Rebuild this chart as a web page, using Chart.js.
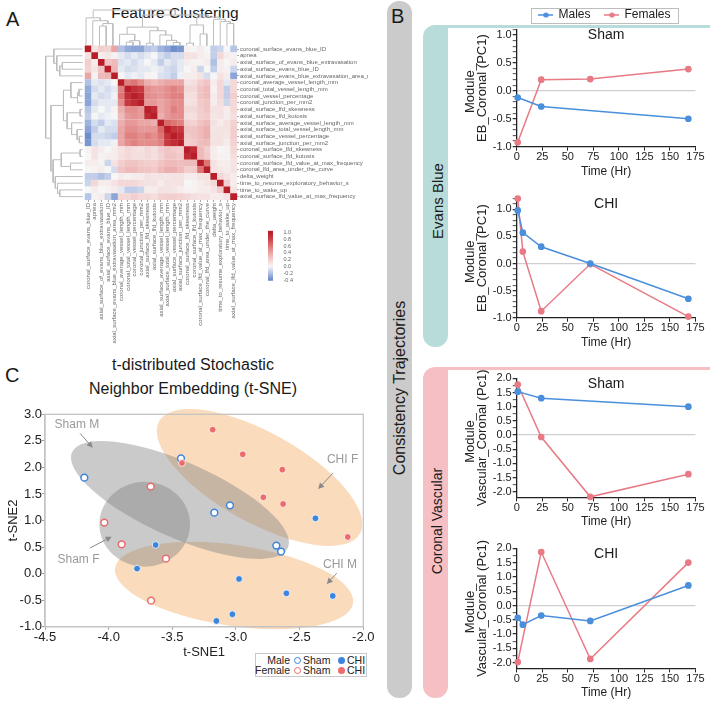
<!DOCTYPE html>
<html><head><meta charset="utf-8"><title>Feature clustering, trajectories and t-SNE</title>
<script src="https://cdn.jsdelivr.net/npm/chart.js@4.4.1/dist/chart.umd.min.js"></script>
<style>
html,body{margin:0;padding:0;background:#fff;}
body{width:720px;height:705px;position:relative;overflow:hidden;font-family:"Liberation Sans",Arial,Helvetica,sans-serif;color:#1a1a1a;}
canvas{position:absolute;}
.t{position:absolute;line-height:1;white-space:nowrap;}
.bar{position:absolute;}
.rot{position:absolute;transform:translate(-50%,-50%) rotate(-90deg);white-space:nowrap;line-height:1;}
.lg{position:absolute;font-size:10.5px;line-height:10.5px;white-space:nowrap;color:#222;}
.dot{position:absolute;width:7px;height:7px;border-radius:50%;box-sizing:border-box;}
</style></head>
<body>
<!-- panel B background bands -->
<div class="bar" style="left:387px;top:1px;width:25px;height:697px;border-radius:12px;background:#cbcbcb"></div>
<div class="bar" style="left:423px;top:25px;width:25px;height:322px;border-radius:12px 0 12px 12px;background:#b7dcd9"></div>
<div class="bar" style="left:440px;top:25px;width:270px;height:3.3px;background:#b7dcd9"></div>
<div class="bar" style="left:423px;top:366.5px;width:25px;height:331px;border-radius:12px 0 12px 12px;background:#f6bfc3"></div>
<div class="bar" style="left:440px;top:366.5px;width:270px;height:3.3px;background:#f6bfc3"></div>

<div class="t" style="left:6px;top:9px;font-size:20px">A</div>
<div class="t" style="left:75px;top:5.3px;width:200px;text-align:center;font-size:15.5px">Feature Clustering</div>
<div class="t" style="left:391px;top:5.7px;font-size:20px">B</div>
<div class="rot" style="left:399.7px;top:387.5px;font-size:16px">Consistency Trajectories</div>
<div class="rot" style="left:437px;top:201px;font-size:15px">Evans Blue</div>
<div class="rot" style="left:437px;top:521px;font-size:14px">Coronal Vascular</div>
<div class="t" style="left:5px;top:365px;font-size:20px">C</div>
<div class="t" style="left:43px;top:352.6px;width:300px;text-align:center;font-size:16px;line-height:24px">t-distributed Stochastic<br>Neighbor Embedding (t-SNE)</div>

<!-- panel C legend -->
<div style="position:absolute;left:255px;top:652.5px;width:112px;height:24.5px;border:1px solid #c8c8c8;box-sizing:border-box;background:#fff"></div>
<div class="lg" style="left:230px;top:654.8px;width:60px;text-align:right">Male</div>
<div class="dot" style="left:294.2px;top:656.5px;border:1.5px solid #3d84dd;background:#fff"></div>
<div class="lg" style="left:303px;top:654.8px">Sham</div>
<div class="dot" style="left:337.5px;top:656.5px;background:#3d84dd"></div>
<div class="lg" style="left:347px;top:654.8px">CHI</div>
<div class="lg" style="left:230px;top:665.4px;width:60px;text-align:right">Female</div>
<div class="dot" style="left:294.2px;top:667.2px;border:1.5px solid #ec6b6b;background:#fff"></div>
<div class="lg" style="left:303px;top:665.4px">Sham</div>
<div class="dot" style="left:337.5px;top:667.2px;background:#ec6b6b"></div>
<div class="lg" style="left:347px;top:665.4px">CHI</div>

<script>
// ================= DATA =================
const features = [
  'coronal_surface_evans_blue_ID','apnea','axial_surface_of_evans_blue_extravasation',
  'axial_surface_evans_blue_ID','axial_surface_evans_blue_extravasation_area_mm2',
  'coronal_average_vessel_length_mm','coronal_total_vessel_length_mm','coronal_vessel_percentage',
  'coronal_junction_per_mm2','axial_surface_lfd_skewness','axial_surface_lfd_kutosis',
  'axial_surface_average_vessel_length_mm','axial_surface_total_vessel_length_mm',
  'axial_surface_vessel_percentage','axial_surface_junction_per_mm2','coronal_surface_lfd_skewness',
  'coronal_surface_lfd_kutosis','coronal_surface_lfd_value_at_max_frequency',
  'coronal_lfd_area_under_the_curve','delta_weight','time_to_resume_exploratory_behavior_s',
  'time_to_wake_up','axial_surface_lfd_value_at_max_frequency'];

// lower triangle of the correlation matrix (row r holds columns 0..r)
const corrLower = [
  [1],
  [0.10, 1],
  [0.20, 0.05, 1],
  [0.18, 0.08, 0.25, 1],
  [0.40, 0.02, 0.30, 0.32, 1],
  [-0.20,-0.05,-0.08,-0.05, 0.00, 1],
  [-0.28,-0.10,-0.05,-0.10,-0.05, 0.55, 1],
  [-0.30,-0.05,-0.10,-0.08,-0.02, 0.60, 0.90, 1],
  [-0.30,-0.10,-0.05,-0.05,-0.05, 0.50, 0.85, 0.92, 1],
  [-0.18,-0.05, 0.00,-0.05, 0.02, 0.35, 0.50, 0.50, 0.45, 1],
  [-0.15, 0.00,-0.05,-0.02, 0.00, 0.30, 0.45, 0.48, 0.45, 0.92, 1],
  [-0.25,-0.10,-0.15,-0.05,-0.08, 0.35, 0.45, 0.45, 0.40, 0.40, 0.35, 1],
  [-0.30,-0.15,-0.05,-0.10,-0.10, 0.40, 0.50, 0.50, 0.45, 0.45, 0.45, 0.65, 1],
  [-0.38,-0.10,-0.10,-0.12,-0.15, 0.40, 0.55, 0.55, 0.50, 0.55, 0.50, 0.60, 0.88, 1],
  [-0.35,-0.10,-0.05,-0.05,-0.02, 0.40, 0.50, 0.55, 0.50, 0.50, 0.50, 0.55, 0.85, 0.92, 1],
  [0.02, 0.10, 0.05, 0.00, 0.05, 0.10, 0.15, 0.12, 0.10, 0.15, 0.12, 0.20, 0.25, 0.22, 0.20, 1],
  [0.00, 0.10, 0.02, 0.05, 0.05, 0.12, 0.15, 0.12, 0.12, 0.15, 0.12, 0.18, 0.25, 0.25, 0.22, 0.92, 1],
  [0.05, 0.05, 0.02,-0.12, 0.10, 0.20, 0.25, 0.25, 0.22, 0.20, 0.20, 0.25, 0.30, 0.30, 0.28, 0.30, 0.30, 1],
  [0.00, 0.02, 0.05, 0.00,-0.10, 0.25, 0.30, 0.30, 0.25, 0.25, 0.22, 0.30, 0.35, 0.35, 0.30, 0.20, 0.22, 0.60, 1],
  [-0.15,-0.15,-0.20,-0.15, 0.00, 0.05, 0.02, 0.05, 0.05, 0.10, 0.08, 0.10, 0.08, 0.10, 0.10, 0.05, 0.05, 0.10, 0.10, 1],
  [-0.12, 0.15, 0.05, 0.05, 0.10, 0.15, 0.15, 0.15, 0.12, 0.10, 0.10, 0.05, 0.10, 0.10, 0.10, 0.00, 0.02, 0.05, 0.08, 0.15, 1],
  [0.00, 0.05, 0.00, 0.02, 0.05,-0.05,-0.15,-0.15,-0.12, 0.05, 0.05, 0.10, 0.10, 0.08, 0.05, 0.02, 0.02, 0.05, 0.05, 0.10, 0.20, 1],
  [-0.18, 0.02, 0.05,-0.12,-0.30, 0.15, 0.15, 0.20, 0.15, 0.15, 0.12, 0.18, 0.20, 0.20, 0.18, 0.15, 0.12, 0.10, 0.10, 0.05, 0.05, 0.10, 1]
];

// hierarchical clustering merges: [child a, child b, height]; new node ids start at features.length
const linkage = [
  [6, 7, 0.10], [23, 8, 0.14], [5, 24, 0.32], [9, 10, 0.07], [13, 14, 0.09],
  [12, 27, 0.15], [11, 28, 0.30], [26, 29, 0.42], [25, 30, 0.52], [15, 16, 0.07],
  [17, 18, 0.33], [32, 33, 0.58], [21, 22, 0.62], [20, 35, 0.68], [19, 36, 0.74],
  [34, 37, 0.80], [31, 38, 0.86], [2, 3, 0.55], [40, 4, 0.62], [1, 41, 0.70],
  [0, 42, 0.78], [43, 39, 1.00]
];
const colorbarTicks = [1.0, 0.8, 0.6, 0.4, 0.2, 0.0, -0.2, -0.4];

// panel B trajectories (time in hours)
const ebShamMaleT = [1, 24, 168],        ebShamMale = [-0.12, -0.28, -0.50];
const ebShamFemaleT = [1, 24, 72, 168],  ebShamFemale = [-0.92, 0.20, 0.21, 0.39];
const ebChiMaleT = [1, 6, 24, 72, 168],  ebChiMale = [0.98, 0.57, 0.31, 0.00, -0.65];
const ebChiFemaleT = [1, 6, 24, 72, 168],ebChiFemale = [1.20, 0.22, -0.88, -0.01, -0.98];
const vcShamMaleT = [1, 24, 168],        vcShamMale = [1.53, 1.30, 1.00];
const vcShamFemaleT = [1, 24, 72, 168],  vcShamFemale = [1.78, -0.07, -2.18, -1.38];
const vcChiMaleT = [1, 6, 24, 72, 168],  vcChiMale = [-0.43, -0.67, -0.35, -0.54, 0.70];
const vcChiFemaleT = [1, 24, 72, 168],   vcChiFemale = [-1.98, 1.87, -1.87, 1.50];

// panel C t-SNE embedding [t-SNE1, t-SNE2]
const tsneMaleSham = [[-4.191,1.807],[-3.432,2.171],[-3.170,1.148],[-3.047,1.286],[-2.683,0.527],[-2.646,0.414]];
const tsneMaleCHI = [[-3.631,0.539],[-3.777,0.094],[-2.976,-0.101],[-2.604,-0.371],[-2.240,-0.421],[-3.028,-0.766],[-3.154,-0.892],[-2.376,1.041]];
const tsneFemaleSham = [[-3.670,1.638],[-4.034,0.960],[-3.898,0.552],[-3.550,0.282],[-3.667,-0.509]];
const tsneFemaleCHI = [[-3.183,2.711],[-2.947,2.247],[-3.424,2.083],[-2.636,1.958],[-2.785,1.437],[-2.630,1.311],[-2.122,0.690]];
// group ellipses: centre, major half-axis vector, minor half-axis vector (data units)
const ellipseCentres = {shamM:[-3.44,1.386], shamF:[-3.717,0.930], chiF:[-2.815,1.810], chiM:[-3.015,-0.224]};
const ellipseMajor   = {shamM:[0.848,-0.900], shamF:[0.356,0], chiF:[0.789,-1.057], chiM:[0.935,-0.330]};
const ellipseMinor   = {shamM:[-0.120,-0.650], shamF:[0,0.800], chiF:[-0.172,-0.738], chiM:[-0.046,-0.753]};
const groupLabels = [['Sham M',-4.249,2.80],['CHI F',-2.163,2.139],['Sham F',-4.237,0.256],['CHI M',-2.183,0.175]];
const groupArrows = [[-4.225,2.642,-4.125,2.371],[-2.238,1.894,-2.355,1.593],[-4.147,0.482,-3.976,0.695],[-2.209,0.006,-2.287,-0.196]];

// ================= STYLE / HELPERS =================
Chart.defaults.font.family = '"Liberation Sans", Arial, Helvetica, sans-serif';
Chart.defaults.color = '#222';
Chart.defaults.animation = false;
Chart.defaults.responsive = false;
Chart.defaults.events = [];
Chart.defaults.plugins.legend.display = false;
Chart.defaults.plugins.tooltip.enabled = false;

const BLUE = '#4a8fdc', RED = '#e87a85';
const TS_BLUE = '#3d84dd', TS_RED = '#ec6b6b';
const cmapStops = [[-0.4,[103,137,200]],[-0.2,[176,193,228]],[0,[247,246,246]],[0.2,[243,206,206]],
  [0.4,[234,165,165]],[0.6,[221,117,117]],[0.8,[203,66,70]],[1.0,[183,30,42]]];
function rgbStr(c){return 'rgb('+c.map(Math.round).join(',')+')';}
function cmap(v){
  const s = cmapStops;
  if (v <= s[0][0]) return rgbStr(s[0][1]);
  for (let i = 1; i < s.length; i++) {
    if (v <= s[i][0]) {
      const t = (v - s[i-1][0]) / (s[i][0] - s[i-1][0]);
      return rgbStr(s[i-1][1].map((a, k) => a + (s[i][1][k] - a) * t));
    }
  }
  return rgbStr(s[s.length-1][1]);
}
function mk(l, t, w, h){
  const c = document.createElement('canvas');
  c.width = w; c.height = h;
  c.style.left = l + 'px'; c.style.top = t + 'px';
  c.style.width = w + 'px'; c.style.height = h + 'px';
  document.body.appendChild(c);
  return c;
}
function fmt1(v){ return Math.abs(v) < 1e-9 ? '0.0' : Number(v).toFixed(1); }

// ================= PANEL A: heatmap =================
const n = features.length;
const corr = features.map((_, r) => features.map((_, c) => r >= c ? corrLower[r][c] : corrLower[c][r]));
const cells = [];
for (let r = 0; r < n; r++) for (let c = 0; c < n; c++) cells.push({x: features[c], y: features[r], v: corr[r][c]});

new Chart(mk(80, 40, 288, 315), {
  type: 'scatter',
  data: {datasets: [{data: cells, pointStyle: 'rect', pointRadius: 4.9, pointBorderWidth: 0,
    pointBackgroundColor: ctx => cmap(ctx.raw ? ctx.raw.v : 0)}]},
  options: {
    layout: {padding: {left: 2.7, top: 5.7, right: 0, bottom: 0}},
    scales: {
      x: {type: 'category', labels: features, offset: true, position: 'bottom',
          ticks: {autoSkip: false, minRotation: 90, maxRotation: 90, font: {size: 6}, color: '#666', padding: 1},
          grid: {display: true, drawOnChartArea: false, tickLength: 2, color: '#aaa'}, border: {display: false},
          afterFit(s){ s.height = 155; s.paddingLeft = 0; s.paddingRight = 0; }},
      y: {type: 'category', labels: features, offset: true, position: 'right',
          ticks: {autoSkip: false, font: {size: 6}, color: '#666', padding: 1},
          grid: {display: true, drawOnChartArea: false, tickLength: 2, color: '#aaa'}, border: {display: false},
          afterFit(s){ s.width = 368 - 237; s.paddingTop = 0; s.paddingBottom = 0; }}
    }
  }
});

// dendrograms
function dendroLinks(){
  const pos = [], ht = [];
  for (let i = 0; i < n; i++){ pos[i] = i; ht[i] = 0; }
  return linkage.map(([a, b, h], k) => {
    const id = n + k; pos[id] = (pos[a] + pos[b]) / 2; ht[id] = h;
    return [[pos[a], ht[a]], [pos[a], h], [pos[b], h], [pos[b], ht[b]]];
  });
}
const links = dendroLinks();
const dStyle = {showLine: true, pointRadius: 0, borderColor: '#bdbdbd', borderWidth: 1, clip: false};
new Chart(mk(80, 4, 160, 44), {
  type: 'scatter',
  data: {datasets: links.map(L => Object.assign({data: L.map(([p, h]) => ({x: p, y: h}))}, dStyle))},
  options: {layout: {padding: {left: 2.7, right: 3, top: 6, bottom: 2.3}},
    scales: {x: {display: false, min: -0.5, max: n - 0.5}, y: {display: false, min: 0, max: 1}}}
});
new Chart(mk(40, 40, 45, 164), {
  type: 'scatter',
  data: {datasets: links.map(L => Object.assign({data: L.map(([p, h]) => ({x: h, y: p}))}, dStyle))},
  options: {layout: {padding: {left: 5.7, right: 2.3, top: 5.7, bottom: 4}},
    scales: {x: {display: false, min: 0, max: 1, reverse: true}, y: {display: false, min: -0.5, max: n - 0.5, reverse: true}}}
});

// colour bar
new Chart(mk(262, 225, 50, 61), {
  type: 'bar',
  data: {labels: [''], datasets: [{data: [[-0.42, 1.05]], borderWidth: 0, barPercentage: 1, categoryPercentage: 1,
    backgroundColor: ctx => {
      const ch = ctx.chart; if (!ch.chartArea) return '#fff';
      const ys = ch.scales.y;
      const g = ch.ctx.createLinearGradient(0, ys.getPixelForValue(-0.4), 0, ys.getPixelForValue(1.0));
      cmapStops.forEach(s => g.addColorStop((s[0] + 0.4) / 1.4, rgbStr(s[1])));
      return g;
    }}]},
  options: {
    layout: {padding: {left: 6, top: 5.7, right: 0, bottom: 5.3}},
    scales: {
      x: {display: false},
      y: {position: 'right', min: -0.42, max: 1.05,
          afterBuildTicks(s){ s.ticks = colorbarTicks.map(v => ({value: v})); },
          ticks: {autoSkip: false, font: {size: 5.5}, color: '#666', padding: 2.5, callback: v => fmt1(v)},
          grid: {display: false}, border: {display: false},
          afterFit(s){ s.width = 312 - 273; s.paddingTop = 0; s.paddingBottom = 0; }}
    }
  }
});

// ================= PANEL B: trajectories =================
const innerTitle = {
  id: 'innerTitle',
  afterDraw(chart, args, opts){
    const {ctx, chartArea: a} = chart;
    ctx.save();
    ctx.font = '14px "Liberation Sans", Arial, sans-serif';
    ctx.fillStyle = '#1a1a1a'; ctx.textAlign = 'center'; ctx.textBaseline = 'middle';
    ctx.fillText(opts.text, (a.left + a.right) / 2, a.top + 6);
    ctx.restore();
  }
};
function isHalf(v){ return Math.abs(v * 2 - Math.round(v * 2)) < 1e-6; }
function traj(o){
  const X0 = 516.7, X1 = 695.5, L = 455, W = 262;
  return new Chart(mk(L, o.t, W, o.h), {
    type: 'scatter',
    data: {datasets: [
      {data: o.mT.map((x, i) => ({x, y: o.m[i]})), showLine: true, borderColor: BLUE, pointBackgroundColor: BLUE,
       pointBorderColor: BLUE, pointRadius: 2.6, borderWidth: 1.5, clip: false},
      {data: o.fT.map((x, i) => ({x, y: o.f[i]})), showLine: true, borderColor: RED, pointBackgroundColor: RED,
       pointBorderColor: RED, pointRadius: 2.6, borderWidth: 1.5, clip: false}
    ]},
    options: {
      layout: {padding: {left: 0, top: o.y0 - o.t, right: L + W - X1, bottom: 0}},
      plugins: {innerTitle: {text: o.title}},
      scales: {
        x: {type: 'linear', min: 0, max: 175,
            ticks: {stepSize: 25, font: {size: 11}, color: '#222', padding: 0, maxRotation: 0, autoSkip: false},
            grid: {drawOnChartArea: false, tickLength: 4, color: '#222'},
            border: {color: '#222', width: 1.3},
            title: {display: true, text: 'Time (Hr)', font: {size: 12}, color: '#222', padding: 0},
            afterFit(s){ s.height = o.t + o.h - o.y1; s.paddingLeft = 0; s.paddingRight = 0; }},
        y: {type: 'linear', min: o.yMin, max: o.yMax,
            afterBuildTicks(s){
              const arr = [];
              const k0 = Math.ceil(o.yMin / o.yStep - 1e-9), k1 = Math.floor(o.yMax / o.yStep + 1e-9);
              for (let k = k0; k <= k1; k++) arr.push({value: +(k * o.yStep).toFixed(4)});
              s.ticks = arr;
            },
            ticks: {autoSkip: false, font: {size: 11}, color: '#222', padding: 1,
                    callback: v => isHalf(v) ? fmt1(v) : ''},
            grid: {drawOnChartArea: true, lineWidth: 1.3, tickLength: 4, tickColor: '#222',
                   color: c => (c.tick && Math.abs(c.tick.value) < 1e-9) ? '#cfcfcf' : 'rgba(0,0,0,0)',
                   tickWidth: c => (c.tick && isHalf(c.tick.value)) ? 1.2 : 0.8},
            border: {color: '#222', width: 1.3},
            title: {display: true, text: o.yTitle, font: {size: 13, lineHeight: 0.92}, color: '#222', padding: {top: 9, bottom: 0}},
            afterFit(s){ s.width = X0 - L; s.paddingTop = 0; s.paddingBottom = 0; }}
      }
    },
    plugins: [innerTitle]
  });
}
traj({t: 20, h: 159, y0: 29.4, y1: 146.7, yMin: -1.0, yMax: 1.1, yStep: 0.1, title: 'Sham',
      yTitle: ['Module_', 'EB_Coronal (PC1)'], mT: ebShamMaleT, m: ebShamMale, fT: ebShamFemaleT, f: ebShamFemale});
traj({t: 190, h: 160, y0: 198.5, y1: 317.7, yMin: -1.0, yMax: 1.2, yStep: 0.1, title: 'CHI',
      yTitle: ['Module_', 'EB_Coronal (PC1)'], mT: ebChiMaleT, m: ebChiMale, fT: ebChiFemaleT, f: ebChiFemale});
traj({t: 370, h: 159, y0: 378.3, y1: 497.4, yMin: -2.2, yMax: 2.0, yStep: 0.25, title: 'Sham',
      yTitle: ['Module_', 'Vascular_Coronal (Pc1)'], mT: vcShamMaleT, m: vcShamMale, fT: vcShamFemaleT, f: vcShamFemale});
traj({t: 540, h: 160, y0: 548.3, y1: 668.4, yMin: -2.2, yMax: 2.0, yStep: 0.25, title: 'CHI',
      yTitle: ['Module_', 'Vascular_Coronal (Pc1)'], mT: vcChiMaleT, m: vcChiMale, fT: vcChiFemaleT, f: vcChiFemale});

// legend (Males / Females)
function lineDotIcon(color){
  const c = document.createElement('canvas'); c.width = 15; c.height = 8;
  const g = c.getContext('2d');
  g.strokeStyle = color; g.lineWidth = 1.5; g.beginPath(); g.moveTo(0, 4); g.lineTo(15, 4); g.stroke();
  g.fillStyle = color; g.beginPath(); g.arc(7.5, 4, 2.6, 0, Math.PI * 2); g.fill();
  return c;
}
const legendBox = {
  id: 'legendBox',
  afterDraw(chart){
    const hb = chart.legend && chart.legend.legendHitBoxes; if (!hb || !hb.length) return;
    const l = Math.min(...hb.map(h => h.left)) - 8, r = Math.max(...hb.map(h => h.left + h.width)) + 8;
    const cy = hb[0].top + 6;
    const ctx = chart.ctx; ctx.save(); ctx.strokeStyle = '#bdbdbd'; ctx.lineWidth = 1;
    ctx.strokeRect(Math.round(l) + 0.5, Math.round(cy - 7.5) + 0.5, Math.round(r - l), 15); ctx.restore();
  }
};
new Chart(mk(515, -6, 180, 50), {
  type: 'scatter',
  data: {datasets: [{label: 'Males', data: []}, {label: 'Females', data: []}]},
  options: {
    layout: {padding: 0},
    scales: {x: {display: false}, y: {display: false}},
    plugins: {legend: {display: true, position: 'top',
      labels: {usePointStyle: true, pointStyleWidth: 13, padding: 15, font: {size: 12}, color: '#222',
        generateLabels: () => [
          {text: 'Males', pointStyle: lineDotIcon(BLUE), fillStyle: BLUE, strokeStyle: BLUE, lineWidth: 0, datasetIndex: 0, fontColor: '#222'},
          {text: 'Females', pointStyle: lineDotIcon(RED), fillStyle: RED, strokeStyle: RED, lineWidth: 0, datasetIndex: 1, fontColor: '#222'}
        ]}}}
  },
  plugins: [legendBox]
});

// ================= PANEL C: t-SNE =================
const ellipsePlugin = {
  id: 'ellipses',
  beforeDatasetsDraw(chart){
    const {ctx, scales: {x: xs, y: ys}} = chart;
    const order = [['chiF', 'rgba(244,170,95,0.42)'], ['chiM', 'rgba(244,170,95,0.42)'],
                   ['shamM', 'rgba(128,128,128,0.42)'], ['shamF', 'rgba(128,128,128,0.42)']];
    order.forEach(([k, col]) => {
      const c = ellipseCentres[k], u = ellipseMajor[k], v = ellipseMinor[k];
      const px = xs.getPixelForValue(c[0]), py = ys.getPixelForValue(c[1]);
      const ux = xs.getPixelForValue(c[0] + u[0]) - px, uy = ys.getPixelForValue(c[1] + u[1]) - py;
      const vx = xs.getPixelForValue(c[0] + v[0]) - px, vy = ys.getPixelForValue(c[1] + v[1]) - py;
      ctx.save(); ctx.beginPath(); ctx.transform(ux, uy, vx, vy, px, py); ctx.arc(0, 0, 1, 0, Math.PI * 2); ctx.restore();
      ctx.save(); ctx.fillStyle = col; ctx.fill(); ctx.restore();
    });
    const a = chart.chartArea;
    ctx.save(); ctx.strokeStyle = '#c4c4c4'; ctx.lineWidth = 1.3;
    ctx.strokeRect(a.left, a.top, a.right - a.left, a.bottom - a.top); ctx.restore();
    ctx.save();
    ctx.font = '12px "Liberation Sans", Arial, sans-serif'; ctx.fillStyle = '#9a9a9a';
    ctx.textAlign = 'center'; ctx.textBaseline = 'middle';
    groupLabels.forEach(([t, x, y]) => ctx.fillText(t, xs.getPixelForValue(x), ys.getPixelForValue(y)));
    ctx.strokeStyle = '#8a8a8a'; ctx.fillStyle = '#8a8a8a'; ctx.lineWidth = 1;
    groupArrows.forEach(([x1, y1, x2, y2]) => {
      const ax = xs.getPixelForValue(x1), ay = ys.getPixelForValue(y1);
      const bx = xs.getPixelForValue(x2), by = ys.getPixelForValue(y2);
      const ang = Math.atan2(by - ay, bx - ax), hl = 6, hw = 3;
      ctx.beginPath(); ctx.moveTo(ax, ay); ctx.lineTo(bx - Math.cos(ang) * hl * 0.8, by - Math.sin(ang) * hl * 0.8); ctx.stroke();
      ctx.beginPath(); ctx.moveTo(bx, by);
      ctx.lineTo(bx - Math.cos(ang) * hl - Math.sin(ang) * hw, by - Math.sin(ang) * hl + Math.cos(ang) * hw);
      ctx.lineTo(bx - Math.cos(ang) * hl + Math.sin(ang) * hw, by - Math.sin(ang) * hl - Math.cos(ang) * hw);
      ctx.closePath(); ctx.fill();
    });
    ctx.restore();
  }
};
const pts = arr => arr.map(([x, y]) => ({x, y}));
new Chart(mk(0, 400, 375, 260), {
  type: 'scatter',
  data: {datasets: [
    {data: pts(tsneFemaleSham), pointRadius: 3.4, pointBackgroundColor: '#fff', pointBorderColor: TS_RED, pointBorderWidth: 1.5, clip: false},
    {data: pts(tsneFemaleCHI), pointRadius: 3.4, pointBackgroundColor: TS_RED, pointBorderColor: '#fff', pointBorderWidth: 0.8, clip: false},
    {data: pts(tsneMaleSham), pointRadius: 3.4, pointBackgroundColor: '#fff', pointBorderColor: TS_BLUE, pointBorderWidth: 1.5, clip: false},
    {data: pts(tsneMaleCHI), pointRadius: 3.4, pointBackgroundColor: TS_BLUE, pointBorderColor: '#fff', pointBorderWidth: 0.8, clip: false}
  ]},
  options: {
    layout: {padding: {left: 0, top: 14.3, right: 11.7, bottom: 0}},
    scales: {
      x: {type: 'linear', min: -4.5, max: -2.0,
          ticks: {stepSize: 0.5, font: {size: 13}, color: '#222', padding: 0, maxRotation: 0, callback: v => fmt1(v)},
          grid: {drawOnChartArea: false, tickLength: 3, color: '#9a9a9a'}, border: {color: '#c4c4c4', width: 1.3},
          title: {display: true, text: 't-SNE1', font: {size: 13}, color: '#222', padding: 0},
          afterFit(s){ s.height = 660 - 626.7; s.paddingLeft = 0; s.paddingRight = 0; }},
      y: {type: 'linear', min: -1, max: 3,
          ticks: {stepSize: 0.5, font: {size: 13}, color: '#222', padding: 0, callback: v => fmt1(v)},
          grid: {drawOnChartArea: false, tickLength: 3, color: '#9a9a9a'}, border: {color: '#c4c4c4', width: 1.3},
          title: {display: true, text: 't-SNE2', font: {size: 13}, color: '#222', padding: {top: 5.2, bottom: 0}},
          afterFit(s){ s.width = 45; s.paddingTop = 0; s.paddingBottom = 0; }}
    }
  },
  plugins: [ellipsePlugin]
});
</script>
</body></html>
